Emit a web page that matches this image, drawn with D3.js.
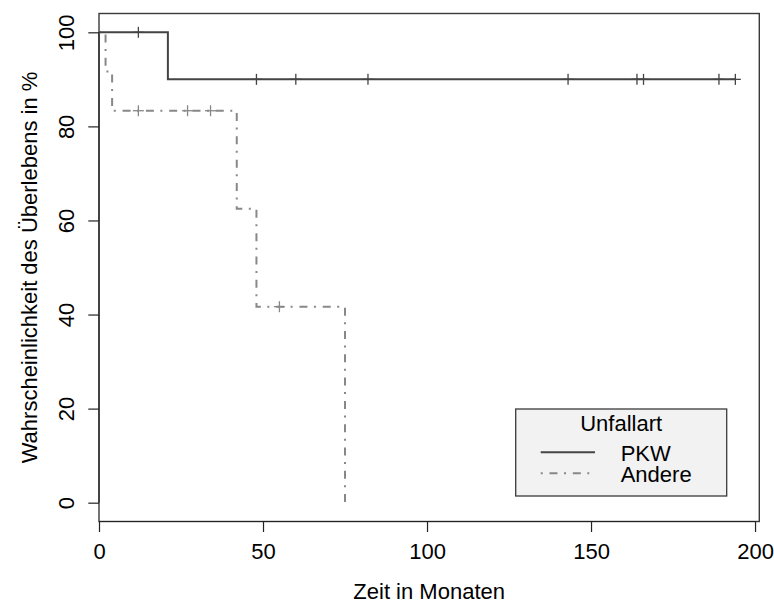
<!DOCTYPE html>
<html>
<head>
<meta charset="utf-8">
<script src="https://cdn.jsdelivr.net/npm/d3@7"></script>
<style>
  html, body { margin: 0; padding: 0; background: #fff; }
  svg { display: block; }
  text { font-family: "Liberation Sans", Arial, Helvetica, sans-serif; fill: #000; }
</style>
</head>
<body>
<svg id="chart" width="774" height="604"></svg>
<script>
// ---- data ----
const groups = ["PKW", "Andere"];
const legendTitle = "Unfallart";
const xTicks = [0, 50, 100, 150, 200];
const yTicks = [0, 20, 40, 60, 80, 100];
const xLabel = "Zeit in Monaten";
const yLabel = "Wahrscheinlichkeit des Überlebens in %";

// PKW: step times and survival (%)
const pkwTime = [0, 21, 194];
const pkwSurv = [100, 90, 90];
const pkwCensor = [12, 48, 60, 82, 143, 164, 166, 189, 194];

// Andere: step times and survival (%)
const andereTime = [0, 2, 4, 42, 48, 75];
const andereSurv = [100, 91.67, 83.33, 62.5, 41.67, 0];
const andereCensor = [12, 27, 34, 55];

// ---- layout ----
const box = { left: 99, right: 759.3, top: 13.5, bottom: 521.5 };
const svg = d3.select("#chart");

const x = d3.scaleLinear().domain([0, 201.3]).range([box.left, box.right]);
const y = d3.scaleLinear().domain([-4, 104]).range([box.bottom, box.top]);

const styles = {
  PKW: { color: "#444444", dash: null },
  Andere: { color: "#888888", dash: "2,6.8,8,6.5" }
};

// plot box
svg.append("rect")
  .attr("x", box.left).attr("y", box.top)
  .attr("width", box.right - box.left).attr("height", box.bottom - box.top)
  .attr("fill", "none").attr("stroke", "#3a3a3a").attr("stroke-width", 1.4);

// x axis
const gx = svg.append("g").attr("transform", `translate(0,${box.bottom})`)
  .call(d3.axisBottom(x).tickValues(xTicks).tickSize(10.5).tickPadding(11.7).tickFormat(d3.format("d")));
gx.select(".domain").remove();
gx.selectAll(".tick line").attr("stroke", "#222").attr("stroke-width", 1.2);
gx.selectAll(".tick text").attr("font-size", 22).attr("fill", "#000");
gx.append("line").attr("x1", x(0)).attr("x2", x(200)).attr("stroke", "#222").attr("stroke-width", 1.2);

// y axis
const gy = svg.append("g").attr("transform", `translate(${box.left},0)`)
  .call(d3.axisLeft(y).tickValues(yTicks).tickSize(10.7).tickFormat(d3.format("d")));
gy.select(".domain").remove();
gy.selectAll(".tick line").attr("stroke", "#222").attr("stroke-width", 1.2);
gy.selectAll(".tick text")
  .attr("x", null).attr("dy", null)
  .attr("font-size", 22).attr("fill", "#000")
  .attr("text-anchor", "middle")
  .attr("transform", "translate(-25,0) rotate(-90)");
gy.append("line").attr("y1", y(0)).attr("y2", y(100)).attr("stroke", "#222").attr("stroke-width", 1.2);

// axis titles
svg.append("text")
  .attr("x", (box.left + box.right) / 2).attr("y", 599)
  .attr("text-anchor", "middle").attr("font-size", 22)
  .text(xLabel);
svg.append("text")
  .attr("transform", `translate(37,${(box.top + box.bottom) / 2}) rotate(-90)`)
  .attr("text-anchor", "middle").attr("font-size", 22)
  .text(yLabel);

// survival curves
const line = d3.line().x(d => x(d[0])).y(d => y(d[1])).curve(d3.curveStepAfter);
function survAt(times, surv, t) {
  let v = surv[0];
  for (let i = 0; i < times.length; i++) if (times[i] <= t) v = surv[i];
  return v;
}
const series = [
  { name: "PKW", time: pkwTime, surv: pkwSurv, censor: pkwCensor },
  { name: "Andere", time: andereTime, surv: andereSurv, censor: andereCensor }
];
series.slice().reverse().forEach(s => {
  const st = styles[s.name];
  const pts = s.time.map((t, i) => [t, s.surv[i]]);
  svg.append("path").datum(pts)
    .attr("d", line)
    .attr("fill", "none")
    .attr("stroke", st.color)
    .attr("stroke-width", 2)
    .attr("stroke-dasharray", st.dash);
  const g = svg.append("g").attr("stroke", st.color).attr("stroke-width", 1.3);
  s.censor.forEach(t => {
    const cx = x(t), cy = y(survAt(s.time, s.surv, t));
    g.append("line").attr("x1", cx - 5.5).attr("x2", cx + 5.5).attr("y1", cy).attr("y2", cy);
    g.append("line").attr("x1", cx).attr("x2", cx).attr("y1", cy - 5.5).attr("y2", cy + 5.5);
  });
});

// legend
const lg = svg.append("g");
lg.append("rect").attr("x", 515.7).attr("y", 409).attr("width", 211).attr("height", 87)
  .attr("fill", "#f2f2f2").attr("stroke", "#3a3a3a").attr("stroke-width", 1.3);
lg.append("text").attr("x", 621.2).attr("y", 431).attr("text-anchor", "middle")
  .attr("font-size", 22).text(legendTitle);
const legendY = [452.3, 473.3];
const legendTextY = [461, 481.7];
groups.forEach((name, i) => {
  lg.append("line").attr("x1", 540.7).attr("x2", 595)
    .attr("y1", legendY[i]).attr("y2", legendY[i])
    .attr("stroke", styles[name].color).attr("stroke-width", 2)
    .attr("stroke-dasharray", styles[name].dash);
  lg.append("text").attr("x", 620.7).attr("y", legendTextY[i])
    .attr("font-size", 22).text(name);
});
</script>
</body>
</html>
